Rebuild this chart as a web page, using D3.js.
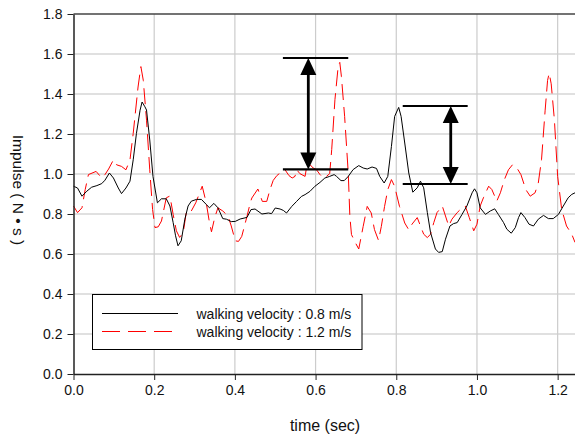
<!DOCTYPE html>
<html>
<head>
<meta charset="utf-8">
<title>impulse vs time</title>
<style>
body { margin: 0; background: #fff; }
svg { display: block; font-family: Arial, "Liberation Sans", sans-serif; }
</style>
</head>
<body>
<div id="chart"></div>
<script src="https://cdn.jsdelivr.net/npm/d3@7"></script>
<script>
// values
const time08 = [0,0.01,0.021,0.033,0.045,0.058,0.07,0.078,0.089,0.099,0.111,0.119,0.13,0.14,0.148,0.156,0.165,0.17,0.177,0.181,0.189,0.197,0.208,0.218,0.23,0.239,0.247,0.253,0.259,0.267,0.276,0.284,0.292,0.305,0.317,0.329,0.337,0.348,0.358,0.37,0.379,0.391,0.401,0.413,0.43,0.44,0.45,0.467,0.483,0.491,0.5,0.512,0.52,0.528,0.541,0.553,0.565,0.574,0.586,0.598,0.611,0.623,0.635,0.646,0.652,0.663,0.671,0.681,0.693,0.707,0.718,0.728,0.74,0.751,0.759,0.77,0.779,0.788,0.796,0.806,0.812,0.821,0.831,0.841,0.852,0.86,0.868,0.877,0.885,0.897,0.905,0.914,0.922,0.933,0.942,0.951,0.963,0.975,0.988,0.994,1.0,1.008,1.021,1.033,1.044,1.053,1.066,1.074,1.085,1.095,1.103,1.109,1.119,1.129,1.14,1.152,1.165,1.177,1.189,1.202,1.214,1.226,1.235,1.243]
const impulse08 = [0.939,0.93,0.889,0.914,0.934,0.942,0.952,0.969,1.005,0.98,0.93,0.902,0.93,0.964,1.071,1.203,1.319,1.36,1.336,1.32,1.17,0.988,0.856,0.876,0.876,0.84,0.757,0.691,0.641,0.666,0.774,0.84,0.864,0.873,0.873,0.848,0.831,0.853,0.831,0.777,0.774,0.762,0.763,0.775,0.783,0.822,0.825,0.8,0.805,0.802,0.83,0.825,0.818,0.805,0.838,0.863,0.888,0.897,0.913,0.938,0.958,0.98,0.988,0.997,0.988,0.967,0.967,0.988,1.022,1.042,1.03,1.025,1.035,1.028,0.988,0.955,0.988,1.138,1.288,1.333,1.288,1.155,1.005,0.909,0.931,0.964,0.931,0.807,0.707,0.625,0.608,0.612,0.674,0.74,0.752,0.757,0.798,0.84,0.906,0.926,0.906,0.831,0.798,0.815,0.826,0.798,0.757,0.724,0.704,0.732,0.782,0.807,0.782,0.749,0.74,0.774,0.793,0.777,0.777,0.798,0.84,0.881,0.898,0.906]

const time12 = [0,0.01,0.021,0.029,0.037,0.056,0.07,0.078,0.087,0.099,0.107,0.119,0.13,0.14,0.148,0.16,0.167,0.173,0.181,0.189,0.196,0.202,0.21,0.218,0.23,0.239,0.247,0.255,0.263,0.272,0.28,0.292,0.303,0.319,0.329,0.337,0.342,0.35,0.358,0.37,0.383,0.391,0.401,0.409,0.417,0.43,0.438,0.442,0.457,0.468,0.479,0.487,0.495,0.504,0.512,0.524,0.534,0.542,0.549,0.553,0.561,0.574,0.578,0.586,0.594,0.602,0.611,0.619,0.627,0.635,0.64,0.648,0.656,0.66,0.664,0.672,0.681,0.685,0.689,0.699,0.707,0.718,0.728,0.738,0.746,0.756,0.763,0.771,0.779,0.788,0.796,0.808,0.821,0.831,0.839,0.852,0.86,0.868,0.877,0.885,0.893,0.901,0.914,0.922,0.93,0.938,0.951,0.963,0.971,0.981,0.992,1.0,1.008,1.016,1.029,1.037,1.044,1.049,1.058,1.068,1.078,1.088,1.099,1.109,1.121,1.132,1.144,1.152,1.16,1.169,1.175,1.179,1.184,1.192,1.2,1.21,1.222,1.235,1.243]
const impulse12 = [0.84,0.807,0.831,0.922,0.997,1.013,0.98,0.997,1.025,1.071,1.046,1.038,1.021,1.071,1.203,1.435,1.537,1.468,1.269,1.021,0.823,0.732,0.736,0.765,0.881,0.89,0.798,0.716,0.683,0.707,0.815,0.815,0.856,0.939,0.856,0.757,0.711,0.782,0.831,0.815,0.79,0.74,0.666,0.663,0.688,0.788,0.855,0.88,0.925,0.863,0.863,0.922,0.968,0.992,1.005,1.022,0.992,0.98,0.988,1.022,1.002,0.988,1.038,1.047,1.03,1.022,0.997,0.98,0.988,1.002,1.122,1.372,1.538,1.558,1.488,1.288,1.005,0.788,0.697,0.655,0.625,0.738,0.838,0.805,0.722,0.668,0.738,0.838,0.922,0.972,0.938,0.838,0.755,0.721,0.749,0.782,0.74,0.699,0.682,0.699,0.757,0.807,0.84,0.79,0.74,0.774,0.807,0.831,0.84,0.782,0.716,0.749,0.84,0.881,0.939,0.922,0.889,0.864,0.906,0.972,1.021,1.046,1.03,0.997,0.922,0.889,0.906,0.955,1.071,1.319,1.468,1.504,1.451,1.269,0.988,0.823,0.74,0.699,0.658]

const xTicks = [0, 0.2, 0.4, 0.6, 0.8, 1.0, 1.2]
const yTicks = [0, 0.2, 0.4, 0.6, 0.8, 1.0, 1.2, 1.4, 1.6, 1.8]
const legendLabels = ["walking velocity : 0.8 m/s", "walking velocity : 1.2 m/s"]

// double headed arrows: [t start, t end, t of arrow, low, high]
const arrowSpans = [
    [0.519, 0.681, 0.582, 1.023, 1.58],
    [0.816, 0.977, 0.935, 0.95, 1.34]
]

const width = 575
const height = 437
const plotLeft = 73.5, plotRight = 575, plotTop = 14, plotBottom = 374

const x = d3.scaleLinear().domain([0, 1.243]).range([plotLeft, plotRight])
const y = d3.scaleLinear().domain([0, 1.8]).range([plotBottom, plotTop])

const svg = d3.select("#chart").append("svg")
    .attr("width", width)
    .attr("height", height)

// grid
svg.append("g").selectAll("line")
    .data(yTicks.slice(1, -1))
    .enter().append("line")
    .attr("x1", plotLeft).attr("x2", plotRight)
    .attr("y1", d => y(d)).attr("y2", d => y(d))
    .style("stroke", "#d6d6d6")
    .style("stroke-width", 1.5)

svg.append("g").selectAll("line")
    .data(xTicks.slice(1))
    .enter().append("line")
    .attr("x1", d => x(d)).attr("x2", d => x(d))
    .attr("y1", plotTop).attr("y2", plotBottom)
    .style("stroke", "#cccccc")
    .style("stroke-width", 1.2)

// top frame
svg.append("line")
    .attr("x1", plotLeft).attr("x2", plotRight)
    .attr("y1", y(1.8)).attr("y2", y(1.8))
    .style("stroke", "#444")
    .style("stroke-width", 1.5)

// series
const line = d3.line().x(d => x(d[0])).y(d => y(d[1]))

svg.append("path")
    .datum(d3.zip(time12, impulse12))
    .attr("d", line)
    .style("fill", "none")
    .style("stroke", "#ff0000")
    .style("stroke-width", 1)
    .style("stroke-dasharray", "16,7")

svg.append("path")
    .datum(d3.zip(time08, impulse08))
    .attr("d", line)
    .style("fill", "none")
    .style("stroke", "#000")
    .style("stroke-width", 1)

// arrows
const ann = svg.append("g")
arrowSpans.forEach(a => {
    const [t0, t1, ta, lo, hi] = a
    ;[lo, hi].forEach(v => {
        ann.append("line")
            .attr("x1", x(t0)).attr("x2", x(t1))
            .attr("y1", y(v)).attr("y2", y(v))
            .style("stroke", "#000").style("stroke-width", 2.2)
    })
    const cx = x(ta)
    ann.append("line")
        .attr("x1", cx).attr("x2", cx)
        .attr("y1", y(hi) + 10).attr("y2", y(lo) - 10)
        .style("stroke", "#000").style("stroke-width", 2.8)
    ann.append("path")
        .attr("d", `M${cx},${y(hi)} L${cx - 8},${y(hi) + 17} L${cx + 8},${y(hi) + 17} Z`)
        .style("fill", "#000")
    ann.append("path")
        .attr("d", `M${cx},${y(lo)} L${cx - 8},${y(lo) - 17} L${cx + 8},${y(lo) - 17} Z`)
        .style("fill", "#000")
})

// axes
const yAxis = svg.append("g")
    .attr("transform", `translate(${plotLeft},0)`)
    .call(d3.axisLeft(y).tickValues(yTicks).tickFormat(d3.format(".1f")).tickSize(6).tickSizeOuter(0).tickPadding(5))
const xAxis = svg.append("g")
    .attr("transform", `translate(0,${plotBottom})`)
    .call(d3.axisBottom(x).tickValues(xTicks).tickFormat(d3.format(".1f")).tickSize(6).tickSizeOuter(0).tickPadding(5))

;[yAxis, xAxis].forEach(g => {
    g.selectAll("text").style("font-size", "14px").style("fill", "#111").style("font-family", "Arial, 'Liberation Sans', sans-serif")
    g.selectAll("line").style("stroke", "#222")
    g.select(".domain").style("stroke", "#222").style("stroke-width", 1.5)
})

svg.append("text")
    .attr("x", 325).attr("y", 431)
    .attr("text-anchor", "middle")
    .style("font-size", "16px")
    .style("fill", "#111")
    .text("time (sec)")

svg.append("text")
    .attr("transform", "translate(13,190) rotate(90)")
    .attr("text-anchor", "middle")
    .style("font-size", "15.5px")
    .style("fill", "#111")
    .text("Impulse ( N • s )")

// legend
const legend = svg.append("g")
legend.append("rect")
    .attr("x", 92.5).attr("y", 294.5)
    .attr("width", 269.5).attr("height", 55)
    .style("fill", "#fff")
    .style("stroke", "#000")
    .style("stroke-width", 1)

const legendColors = ["#000000", "#ff0000"]
const legendDashes = ["none", "18,8"]
legendLabels.forEach((label, i) => {
    const ly = 313.5 + i * 18
    legend.append("line")
        .attr("x1", 102).attr("x2", 178)
        .attr("y1", ly).attr("y2", ly)
        .attr("stroke", legendColors[i])
        .attr("stroke-width", 1.2)
        .attr("stroke-dasharray", legendDashes[i])
    legend.append("text")
        .attr("x", 196.5).attr("y", ly + 5)
        .style("font-size", "14px")
        .style("fill", "#111")
        .text(label)
})
</script>
</body>
</html>
